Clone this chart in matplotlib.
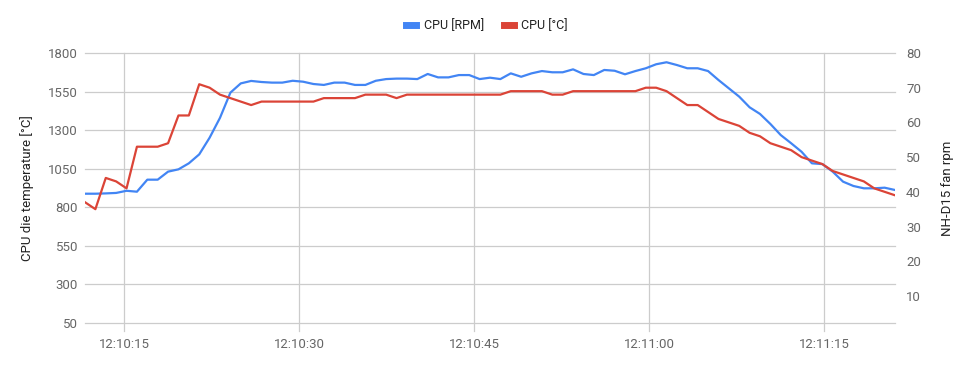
import numpy as np
import matplotlib.pyplot as plt
from matplotlib.lines import Line2D

plt.rcParams['font.family'] = ['Roboto', 'DejaVu Sans']

# sample times, seconds after 12:10:00
t_start = 11.66
t_step = 0.89

cpu_rpm = [888, 888, 890, 893, 907, 901, 979, 979, 1031, 1046,
           1085, 1143, 1251, 1380, 1543, 1603, 1619, 1612, 1608, 1608,
           1620, 1614, 1599, 1593, 1608, 1608, 1593, 1593, 1620, 1631,
           1634, 1634, 1631, 1664, 1642, 1642, 1657, 1657, 1631, 1640,
           1631, 1668, 1646, 1668, 1683, 1675, 1675, 1694, 1664, 1657,
           1690, 1685, 1662, 1683, 1701, 1727, 1740, 1722, 1701, 1701,
           1683, 1625, 1571, 1517, 1448, 1405, 1340, 1268, 1215, 1160,
           1085, 1080, 1031, 966, 938, 923, 923, 927, 912]

cpu_temp = [37, 35, 44, 43, 41, 53, 53, 53, 54, 62,
            62, 71, 70, 68, 67, 66, 65, 66, 66, 66,
            66, 66, 66, 67, 67, 67, 67, 68, 68, 68,
            67, 68, 68, 68, 68, 68, 68, 68, 68, 68,
            68, 69, 69, 69, 69, 68, 68, 69, 69, 69,
            69, 69, 69, 69, 70, 70, 69, 67, 65, 65,
            63, 61, 60, 59, 57, 56, 54, 53, 52, 50,
            49, 48, 46, 45, 44, 43, 41, 40, 39]

x_ticks = [15, 30, 45, 60, 75]
x_labels = ['12:10:15', '12:10:30', '12:10:45', '12:11:00', '12:11:15']
left_ticks = [50, 300, 550, 800, 1050, 1300, 1550, 1800]
right_ticks = [10, 20, 30, 40, 50, 60, 70, 80]

t = t_start + t_step * np.arange(len(cpu_rpm))

blue = '#4285F4'
red = '#DB4437'
grid_c = '#cccccc'
tick_c = '#666666'

fig = plt.figure(figsize=(9.74, 3.71), dpi=100)
ax = fig.add_axes([85/974, 1 - 323/371, 810/974, 270/371])
ax2 = ax.twinx()
ax2.xaxis.set_visible(False)

ax.plot(t, cpu_rpm, color=blue, lw=1.6, zorder=3, solid_joinstyle='round')
ax2.plot(t, cpu_temp, color=red, lw=1.6, zorder=3, solid_joinstyle='round')

ax.set_xlim(t[0], t[-1])
ax.set_ylim(50, 1800)
ax2.set_ylim(2.2, 80)

ax.set_xticks(x_ticks)
ax.set_xticklabels(x_labels)
ax.set_yticks(left_ticks)
ax2.set_yticks(right_ticks)

# horizontal grid from left ticks, vertical lines run a little past the bottom
ax.grid(True, axis='y', color=grid_c, lw=0.9)
ax.set_axisbelow(True)
for gl in ax.get_ygridlines():
    gl.set_clip_on(False)
for x in x_ticks:
    ax.axvline(x, ymin=-0.03, ymax=1, color=grid_c, lw=0.9, clip_on=False, zorder=0.5)
for a in (ax, ax2):
    for s in a.spines.values():
        s.set_visible(False)

ax.tick_params(axis='x', length=0, pad=11, labelsize=9.5, labelcolor=tick_c)
ax.tick_params(axis='y', length=0, pad=5, labelsize=9.5, labelcolor=tick_c)
ax2.tick_params(axis='y', length=0, pad=8, labelsize=9.5, labelcolor=tick_c)

fig.text(27/974, 1 - 188/371, 'CPU die temperature [°C]', rotation=90,
         ha='center', va='center', fontsize=9.5, color='#222222')
fig.text(947/974, 1 - 188/371, 'NH-D15 fan rpm', rotation=90,
         ha='center', va='center', fontsize=9.5, color='#222222')

handles = [Line2D([], [], color=blue, lw=5), Line2D([], [], color=red, lw=5)]
fig.legend(handles, ['CPU [RPM]', 'CPU [°C]'], loc='center',
           bbox_to_anchor=(487/974, 1 - 26/371), ncol=2, frameon=False,
           fontsize=9, handlelength=0.8, handletextpad=0.6, columnspacing=1.6,
           labelcolor='#222222')

fig.savefig('out.png', dpi=100)
